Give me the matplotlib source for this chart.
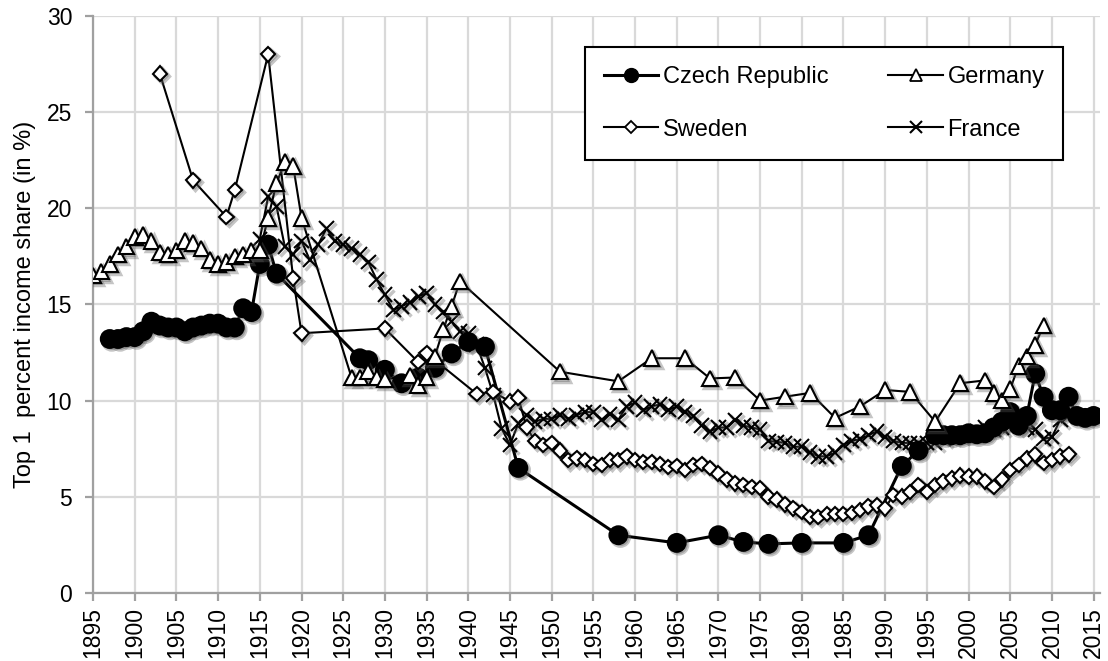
import matplotlib
matplotlib.use("Agg")
import matplotlib.pyplot as plt
import matplotlib.patheffects as pe
from matplotlib.lines import Line2D

plt.rcParams['font.family'] = ['Liberation Sans', 'DejaVu Sans']

# Top 1% income share (in %)
cz_years = list(range(1897, 1918)) + [1927, 1928, 1930, 1932, 1934, 1936, 1938, 1940, 1942,
                                      1946, 1958, 1965, 1970, 1973, 1976, 1980, 1985, 1988,
                                      1992, 1994] + list(range(1996, 2016))
cz_vals = [13.2, 13.2, 13.3, 13.3, 13.6, 14.1, 13.9, 13.8, 13.8, 13.6, 13.8, 13.9, 14.0, 14.0,
           13.8, 13.8, 14.8, 14.6, 17.1, 18.1, 16.6,
           12.2, 12.1, 11.6, 10.9, 11.2, 11.7, 12.45, 13.05, 12.8,
           6.5, 3.0, 2.6, 3.0, 2.65, 2.55, 2.6, 2.6, 3.0,
           6.6, 7.4,
           8.2, 8.2, 8.2, 8.2, 8.3, 8.25, 8.3, 8.6, 8.9, 9.4, 8.7, 9.2,
           11.4, 10.2, 9.5, 9.5, 10.2, 9.2, 9.1, 9.2]

de_years = list(range(1895, 1921)) + [1926, 1927, 1928, 1929, 1930, 1933, 1934, 1935, 1936,
                                      1937, 1938, 1939, 1951, 1958, 1962, 1966, 1969, 1972,
                                      1975, 1978, 1981, 1984, 1987, 1990, 1993, 1996, 1999,
                                      2002, 2003, 2004, 2005, 2006, 2007, 2008, 2009]
de_vals = [16.5, 16.7, 17.1, 17.6, 18.0, 18.5, 18.6, 18.3, 17.7, 17.6, 17.8, 18.3, 18.2,
           17.9, 17.3, 17.1, 17.2, 17.5, 17.6, 17.8, 17.8, 19.5, 21.3, 22.4, 22.2, 19.5,
           11.2, 11.2, 11.5, 11.2, 11.1, 11.3, 10.8, 11.2, 12.3, 13.7, 14.9, 16.2,
           11.5, 11.0, 12.2, 12.2, 11.15, 11.2, 10.0, 10.2, 10.4, 9.1, 9.7, 10.55, 10.45,
           8.9, 10.9, 11.05, 10.4, 10.0, 10.6, 11.8, 12.3, 12.9, 13.9]

se_years = [1903, 1907, 1911, 1912, 1916, 1919, 1920, 1930, 1934, 1935, 1941, 1943,
            1945, 1946] + list(range(1947, 2013))
se_vals = [27.0, 21.45, 19.55, 20.95, 28.0, 16.35, 13.5, 13.75, 12.0, 12.45, 10.35, 10.45,
           9.95, 10.15,
           8.6, 7.9, 7.7, 7.8, 7.4, 6.9, 7.0, 6.9, 6.7, 6.65, 6.9, 6.9, 7.1, 6.9, 6.8, 6.8,
           6.7, 6.55, 6.6, 6.4, 6.65, 6.7, 6.5, 6.2, 5.9, 5.7, 5.6, 5.5, 5.45, 5.0, 4.85,
           4.6, 4.4, 4.2, 3.95, 3.95, 4.1, 4.1, 4.1, 4.15, 4.3, 4.5, 4.55, 4.4, 5.1, 5.0,
           5.25, 5.6, 5.25, 5.6, 5.8, 5.95, 6.1, 6.05, 6.05, 5.8, 5.5, 5.9, 6.4, 6.65, 7.0,
           7.2, 6.75, 6.9, 7.1, 7.2]

fr_years = list(range(1915, 2013))
fr_vals = [18.4, 20.6, 20.1, 18.0, 17.6, 18.3, 17.3, 18.1, 18.95, 18.3, 18.1, 17.9, 17.6,
           17.2, 16.3, 15.5, 14.7, 14.9, 15.1, 15.4, 15.6, 15.0, 14.6, 14.1, 13.6, 13.5,
           12.9, 11.7, 10.3, 8.55, 7.7, 8.8, 9.25, 8.9, 9.05, 9.05, 9.25, 9.05, 9.25, 9.4,
           9.4, 9.0, 9.3, 9.0, 9.7, 9.9, 9.5, 9.7, 9.8, 9.5, 9.7, 9.4, 9.2, 8.7, 8.4, 8.6,
           8.6, 9.0, 8.7, 8.6, 8.5, 7.9, 7.85, 7.8, 7.6, 7.6, 7.3, 7.1, 7.1, 7.3, 7.7, 7.9,
           8.0, 8.2, 8.4, 8.1, 7.9, 7.8, 7.8, 7.8, 7.8, 7.8, 8.0, 8.1, 8.2, 8.3, 8.4, 8.6,
           8.5, 8.6, 8.7, 8.9, 8.6, 8.5, 8.0, 8.1, 9.0, 9.2]

x_ticks = list(range(1895, 2016, 5))
y_ticks = list(range(0, 31, 5))

fig = plt.figure(figsize=(11.08, 6.61), dpi=100)
ax = fig.add_axes([0.084, 0.103, 0.909, 0.873])

shadow = [pe.SimpleLineShadow(offset=(1.5, -1.5), shadow_color='0.35', alpha=0.35, linewidth=2.5),
          pe.SimplePatchShadow(offset=(1.5, -1.5), shadow_rgbFace='0.35', alpha=0.35),
          pe.Normal()]

series = [
    # years, values, marker, size, face, line width, zorder
    (fr_years, fr_vals, 'x', 10.5, 'black', 1.5, 3),
    (cz_years, cz_vals, 'o', 12.8, 'black', 2.2, 4),
    (se_years, se_vals, 'D', 7.4, 'white', 1.5, 5),
    (de_years, de_vals, '^', 11.2, 'white', 1.5, 6),
]

for yrs, vals, mk, ms, fc, lw, z in series:
    ax.plot(yrs, vals, '-', color='black', lw=lw, zorder=z)
    ax.plot(yrs, vals, linestyle='none', marker=mk, ms=ms, mfc=fc, mec='black',
            mew=1.5, zorder=z + 0.5, path_effects=shadow)

ax.set_xlim(1895, 2015.8)
ax.set_ylim(0, 30)
ax.set_xticks(x_ticks)
ax.set_xticklabels([str(t) for t in x_ticks], rotation=90)
ax.set_yticks(y_ticks)
ax.grid(True, color='#d9d9d9', lw=1.6)
ax.set_axisbelow(True)
for s in ['top', 'right']:
    ax.spines[s].set_visible(False)
for s in ['left', 'bottom']:
    ax.spines[s].set_color('#a0a0a0')
    ax.spines[s].set_linewidth(1.6)
ax.tick_params(axis='both', which='major', labelsize=16.5, color='#a0a0a0',
               length=6, width=1.6, direction='out')
ax.tick_params(axis='y', pad=9)
ax.tick_params(axis='x', pad=4)
ax.set_ylabel('Top 1  percent income share (in %)', fontsize=17, labelpad=8)

handles = [
    Line2D([], [], color='black', lw=2.2, marker='o', ms=10, mfc='black', mec='black'),
    Line2D([], [], color='black', lw=1.5, marker='D', ms=6, mfc='white', mec='black', mew=1.3),
    Line2D([], [], color='black', lw=1.5, marker='^', ms=9, mfc='white', mec='black', mew=1.3),
    Line2D([], [], color='black', lw=1.5, marker='x', ms=9, mec='black', mew=1.5),
]
labels = ['Czech Republic', 'Sweden', 'Germany', 'France']
leg = ax.legend(handles, labels, ncol=2, loc='upper left',
                bbox_to_anchor=(0.4886, 0.9458, 0.4747, 0.0), mode='expand',
                fontsize=17, frameon=True, fancybox=False, framealpha=1,
                edgecolor='black', handlelength=2.3, handletextpad=0.2,
                labelspacing=1.3, borderpad=0.8, columnspacing=1.4,
                borderaxespad=0)
leg.get_frame().set_linewidth(1.5)
leg.set_zorder(10)

fig.savefig('out.png', dpi=100)
